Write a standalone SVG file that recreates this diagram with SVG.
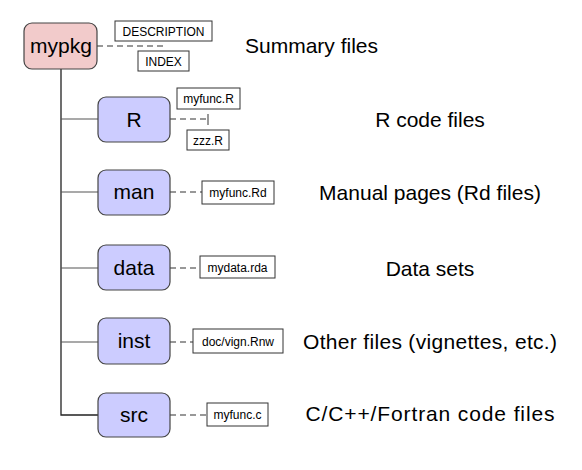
<svg xmlns="http://www.w3.org/2000/svg" width="582" height="470" viewBox="0 0 582 470">
<style>
text{font-family:"Liberation Sans",Arial,sans-serif;fill:#000}
.node{stroke:#444;stroke-width:1.2}
.root{fill:#f2cbcb}
.dir{fill:#ccccff}
.nt{font-size:21px;text-anchor:middle}
.file{fill:#fff;stroke:#333;stroke-width:1}
.ft{font-size:12px;text-anchor:middle}
.desc{font-size:21px;text-anchor:middle}
.dash{stroke:#333;stroke-width:1.2;stroke-dasharray:6,4;fill:none}
.branch{stroke:#555;stroke-width:1.2;fill:none}
</style>
<g id="connectors">
<path d="M61,69 V415 H98" stroke="#222" stroke-width="1.3" fill="none"/>
<path class="branch" d="M61,119 H98 M61,192 H98 M61,268 H98 M61,342 H98"/>
<path class="dash" d="M97,46 H166"/>
<path class="dash" d="M170,119 H208"/>
<path class="branch" d="M208,114 V125"/>
<path class="dash" d="M170,192 H202"/>
<path class="dash" d="M170,268 H200"/>
<path class="dash" d="M170,342 H193"/>
<path class="dash" d="M170,415 H207"/>
</g>
<g id="mypkg"><rect class="node root" x="24" y="23" width="73" height="46" rx="8"/><text class="nt" x="61" y="53">mypkg</text></g>
<g id="R"><rect class="node dir" x="98" y="97" width="72" height="45" rx="8"/><text class="nt" x="134" y="127">R</text></g>
<g id="man"><rect class="node dir" x="98" y="170" width="72" height="45" rx="8"/><text class="nt" x="134" y="199">man</text></g>
<g id="data"><rect class="node dir" x="98" y="245" width="72" height="45" rx="8"/><text class="nt" x="134" y="275">data</text></g>
<g id="inst"><rect class="node dir" x="98" y="318" width="72" height="46" rx="8"/><text class="nt" x="134" y="348">inst</text></g>
<g id="src"><rect class="node dir" x="98" y="393" width="72" height="44" rx="8"/><text class="nt" x="134" y="422">src</text></g>
<g id="f-description"><rect class="file" x="115" y="21" width="97" height="20"/><text class="ft" x="163.5" y="35.5">DESCRIPTION</text></g>
<g id="f-index"><rect class="file" x="138" y="51" width="51" height="20"/><text class="ft" x="163.5" y="65.5">INDEX</text></g>
<g id="f-myfuncR"><rect class="file" x="177" y="88" width="63" height="21"/><text class="ft" x="208.5" y="103">myfunc.R</text></g>
<g id="f-zzzR"><rect class="file" x="187" y="130" width="42" height="20"/><text class="ft" x="208" y="144.5">zzz.R</text></g>
<g id="f-myfuncRd"><rect class="file" x="202" y="181" width="72" height="23"/><text class="ft" x="238" y="196.5">myfunc.Rd</text></g>
<g id="f-mydata"><rect class="file" x="200" y="256" width="75" height="22"/><text class="ft" x="237.5" y="271.5">mydata.rda</text></g>
<g id="f-vign"><rect class="file" x="193" y="329" width="90" height="24"/><text class="ft" x="238" y="345.5">doc/vign.Rnw</text></g>
<g id="f-myfuncc"><rect class="file" x="207" y="403" width="61" height="23"/><text class="ft" x="237.5" y="419">myfunc.c</text></g>
<g id="labels">
<text class="desc" x="245" y="53" style="text-anchor:start">Summary files</text>
<text class="desc" x="430" y="127">R code files</text>
<text class="desc" x="430" y="200">Manual pages (Rd files)</text>
<text class="desc" x="430" y="276">Data sets</text>
<text class="desc" x="430" y="349" textLength="254" lengthAdjust="spacing">Other files (vignettes, etc.)</text>
<text class="desc" x="430" y="421" textLength="249" lengthAdjust="spacing">C/C++/Fortran code files</text>
</g>
</svg>
